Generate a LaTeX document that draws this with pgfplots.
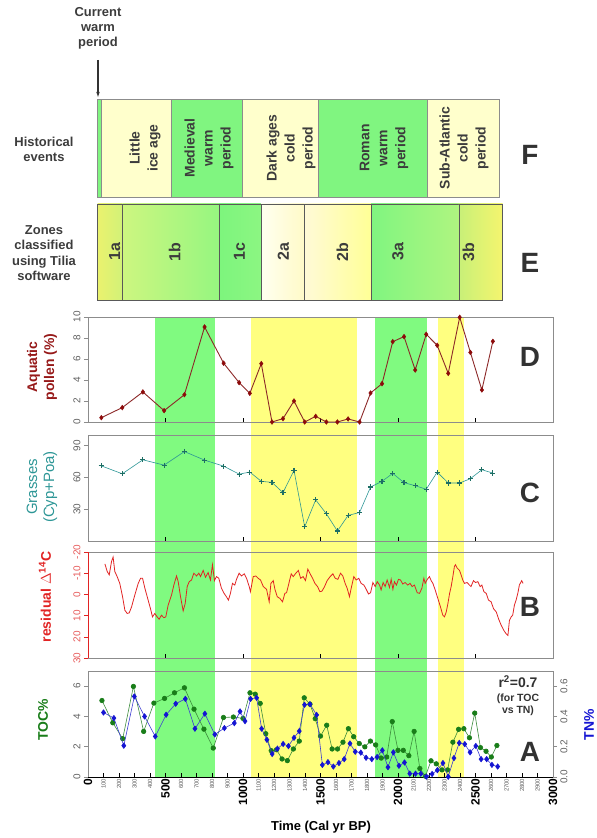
\documentclass[border=0pt]{standalone}
\usepackage{pgfplots}
\pgfplotsset{compat=1.18}
\usepackage{fontspec}
\setmainfont{Liberation Sans}
\usetikzlibrary{arrows.meta}

\definecolor{bgreen}{RGB}{128,250,128}
\definecolor{byellow}{RGB}{255,255,128}
\definecolor{pale}{RGB}{255,255,204}
\definecolor{fgreen}{RGB}{128,245,128}
\definecolor{framegray}{RGB}{140,140,140}
\definecolor{txtgray}{RGB}{60,60,60}
\definecolor{letgray}{RGB}{50,50,50}
\definecolor{labgray}{RGB}{95,95,95}
\definecolor{aqred}{RGB}{140,10,10}
\definecolor{aqline}{RGB}{140,40,40}
\definecolor{aqlab}{RGB}{150,25,25}
\definecolor{grteal}{RGB}{45,150,150}
\definecolor{grmark}{RGB}{30,110,100}
\definecolor{c14red}{RGB}{225,35,35}
\definecolor{c14lab}{RGB}{230,90,90}
\definecolor{tocgreen}{RGB}{25,125,25}
\definecolor{tocline}{RGB}{60,140,60}
\definecolor{tnblue}{RGB}{20,20,210}
\definecolor{tnline}{RGB}{60,60,210}

\newcommand{\fs}[2]{\fontsize{#1}{#2}\selectfont}
\newcommand{\MJ}[1]{{\fs{12}{12}\bfseries #1}}
\newcommand{\MN}[1]{{\fs{6}{6}\color{labgray}#1}}

\pgfplotsset{
  panel/.style={
    scale only axis, width=465bp, xmin=0, xmax=3000,
    anchor=south west,
    axis line style={framegray, line width=0.9pt},
    xtick={500,1000,1500,2000,2500}, xticklabels={},
    xtick pos=bottom, xtick align=inside,
    ytick pos=left, ytick align=outside,
    major tick length=4bp,
    xtick style={black, line width=0.9pt},
    ytick style={framegray, line width=0.6pt},
    yticklabel style={rotate=90, anchor=south, font=\fs{10}{10}, text=labgray},
    /pgf/number format/assume math mode=true,
    clip=false,
  },
  box/.style={
    scale only axis, anchor=south west, ymin=0, ymax=1,
    xtick=\empty, ytick=\empty,
    axis line style={framegray, line width=0.9pt}, clip=false,
  },
}

\begin{document}
\begin{tikzpicture}
\useasboundingbox (0,0) rectangle (597bp,838bp);

% ---------- background bands ----------
\begin{axis}[scale only axis, anchor=south west, at={(88bp,61bp)},
  width=465bp, height=460bp, xmin=0, xmax=3000, ymin=0, ymax=1, hide axis]
\addplot[fill=bgreen, draw=none] coordinates {(430,1)(820,1)} \closedcycle;
\addplot[fill=byellow, draw=none] coordinates {(1050,1)(1735,1)} \closedcycle;
\addplot[fill=bgreen, draw=none] coordinates {(1850,1)(2185,1)} \closedcycle;
\addplot[fill=byellow, draw=none] coordinates {(2255,1)(2425,1)} \closedcycle;
\end{axis}

% ---------- F : historical events ----------
\begin{axis}[box, at={(97.5bp,641bp)}, width=401.5bp, height=98bp, xmin=97.5, xmax=499]
\addplot[fill=fgreen, draw=framegray] coordinates {(97.5,1)(101,1)} \closedcycle;
\addplot[fill=pale, draw=framegray] coordinates {(101,1)(170.8,1)} \closedcycle;
\addplot[fill=fgreen, draw=framegray] coordinates {(170.8,1)(242.1,1)} \closedcycle;
\addplot[fill=pale, draw=framegray] coordinates {(242.1,1)(318.4,1)} \closedcycle;
\addplot[fill=fgreen, draw=framegray] coordinates {(318.4,1)(427.6,1)} \closedcycle;
\addplot[fill=pale, draw=framegray] coordinates {(427.6,1)(499,1)} \closedcycle;
\begin{scope}[every node/.style={rotate=90, align=center, font=\fs{14}{18}\bfseries, text=txtgray}]
\node at (axis cs:145,0.5) {Little\\ice age};
\node at (axis cs:209,0.5) {Medieval\\warm\\period};
\node at (axis cs:291,0.5) {Dark ages\\cold\\period};
\node at (axis cs:384,0.5) {Roman\\warm\\period};
\node at (axis cs:464,0.5) {Sub-Atlantic\\cold\\period};
\end{scope}
\end{axis}

% ---------- E : zones ----------
\begin{axis}[box, at={(97.5bp,538bp)}, width=405.2bp, height=96bp, xmin=97.5, xmax=502.7,
  axis line style={black!65, line width=0.8pt}]
\addplot[draw=black!65, line width=0.6pt, left color={rgb,255:red,235;green,242;blue,110}, right color={rgb,255:red,210;green,242;blue,120}] coordinates {(97.5,1)(122.3,1)} \closedcycle;
\addplot[draw=black!65, line width=0.6pt, left color={rgb,255:red,205;green,246;blue,128}, right color={rgb,255:red,150;green,246;blue,128}] coordinates {(122.3,1)(219.2,1)} \closedcycle;
\addplot[draw=black!65, line width=0.6pt, left color={rgb,255:red,125;green,245;blue,125}, right color={rgb,255:red,140;green,246;blue,130}] coordinates {(219.2,1)(261.2,1)} \closedcycle;
\addplot[draw=black!65, line width=0.6pt, left color={rgb,255:red,255;green,255;blue,240}, right color={rgb,255:red,255;green,250;blue,200}] coordinates {(261.2,1)(304.3,1)} \closedcycle;
\addplot[draw=black!65, line width=0.6pt, left color={rgb,255:red,255;green,250;blue,215}, right color={rgb,255:red,255;green,255;blue,150}] coordinates {(304.3,1)(371.1,1)} \closedcycle;
\addplot[draw=black!65, line width=0.6pt, left color={rgb,255:red,128;green,245;blue,128}, right color={rgb,255:red,175;green,245;blue,128}] coordinates {(371.1,1)(458.8,1)} \closedcycle;
\addplot[draw=black!65, line width=0.6pt, left color={rgb,255:red,200;green,240;blue,120}, right color={rgb,255:red,245;green,245;blue,110}] coordinates {(458.8,1)(502.7,1)} \closedcycle;
\begin{scope}[every node/.style={rotate=90, font=\fs{16}{16}\bfseries, text=txtgray}]
\node at (axis cs:114.7,0.5) {1a};
\node at (axis cs:174.6,0.5) {1b};
\node at (axis cs:239.5,0.5) {1c};
\node at (axis cs:283.3,0.5) {2a};
\node at (axis cs:342.5,0.5) {2b};
\node at (axis cs:397.8,0.5) {3a};
\node at (axis cs:468.4,0.5) {3b};
\end{scope}
\end{axis}

% ---------- D : aquatic pollen ----------
\begin{axis}[panel, at={(88bp,416bp)}, height=105bp, ymin=0, ymax=10, ytick={0,2,4,6,8,10}]
\addplot[aqline, line width=0.9pt, mark=diamond*, mark size=2.4pt, mark options={fill=aqred, draw=aqred, line width=0.4pt}] coordinates {
(86,0.41)(221,1.37)(354,2.86)(491,1.08)(622,2.6)(752,9.05)(875,5.6)(975,3.75)(1044,2.73)(1118,5.56)
(1187,0)(1258,0.32)(1329,2.0)(1398,0)(1469,0.54)(1538,0)(1609,0)(1678,0.29)(1752,0)(1823,2.76)
(1897,3.65)(1966,7.65)(2039,8.13)(2111,4.95)(2182,8.35)(2253,7.3)(2324,4.63)(2398,9.97)(2467,6.63)(2541,3.05)(2612,7.68)};
\end{axis}

% ---------- C : grasses ----------
\begin{axis}[panel, at={(88bp,297bp)}, height=106bp, ymin=0, ymax=100, ytick={30,60,90}]
\addplot[grteal, line width=0.6pt, mark=+, mark size=2.6pt, mark options={draw=grmark, line width=1.1pt}] coordinates {
(86,70.9)(221,63.4)(354,76.6)(491,71.6)(622,84.4)(752,76.3)(875,70.6)(975,63.1)(1044,65)(1118,56.3)
(1187,55.3)(1258,45.6)(1329,66.6)(1398,13.4)(1469,38.8)(1538,25.6)(1609,9.4)(1678,24.1)(1752,26.9)(1823,50.9)
(1897,56.3)(1966,63.8)(2039,55)(2111,52.2)(2182,48.8)(2253,65)(2324,54.7)(2398,54.7)(2467,58.8)(2541,67.2)(2612,64.1)};
\end{axis}

% ---------- B : residual D14C ----------
\begin{axis}[panel, at={(88bp,180bp)}, height=106bp, ymin=-20, ymax=30, y dir=reverse,
  ytick={-20,-10,0,10,20,30}, yticklabel style={text=c14lab}, ytick style={c14red}]
\draw[c14red, line width=0.9pt] (rel axis cs:0,0) -- (rel axis cs:0,1);
\addplot[c14red, line width=0.8pt] coordinates {
(109,-14.4)(124,-10.8)(137,-9.2)(152,-15.6)(162,-17.6)(173,-10.8)(188,-8.4)(205,-5.2)(223,1.1)(238,7.5)
(253,9.0)(266,8.7)(281,5.9)(302,0.3)(324,-5.2)(339,-7.6)(352,-7.6)(367,-2.9)(388,2.7)(403,6.7)
(416,10.6)(431,9.0)(446,10.6)(459,11.7)(474,9.8)(489,11)(502,10.6)(517,5.1)(539,0.3)(554,-4.4)
(571,-8.7)(582,-6.0)(597,1.1)(614,7.8)(627,4.3)(640,-3.7)(653,-6.0)(668,-6.8)(683,-10)(700,-8.7)
(715,-10)(726,-8.4)(743,-11.3)(758,-8.1)(775,-10.3)(790,-6.8)(803,-14)(816,-6.5)(829,-8.4)(844,-7.6)
(861,-2.9)(878,-0.5)(893,1.1)(906,2.7)(919,-0.5)(932,-5.2)(947,-4.4)(958,-7.1)(975,-10)(990,-8.7)
(1008,-9.7)(1023,-7.6)(1040,-3.7)(1048,-1.3)(1066,-8.4)(1083,-8.7)(1098,-7.6)(1113,-6.8)(1131,-3.7)(1152,-2.4)
(1169,3.5)(1180,-5.2)(1195,-6.5)(1206,-2.4)(1221,1.1)(1238,1.9)(1255,3.5)(1270,-0.5)(1281,-0.8)(1296,-5.2)
(1311,-9.7)(1324,-8.4)(1341,-10)(1357,-11.3)(1372,-7.6)(1388,-8.4)(1403,-6.5)(1418,-11.9)(1431,-10)(1449,-7.6)
(1464,-5.2)(1481,-3.7)(1496,-1.3)(1509,-1.5)(1525,-3.5)(1543,-6.5)(1562,-8.4)(1580,-9.7)(1595,-7.6)(1612,-7.1)
(1629,-10)(1644,-8.7)(1659,-5.2)(1672,-2.9)(1687,1.1)(1698,-2.9)(1715,-8.4)(1730,-6.8)(1747,-7.6)(1762,-5.2)
(1780,-4.4)(1795,-2.4)(1810,-0.2)(1823,-0.8)(1838,-5.6)(1853,-3.7)(1866,-6)(1881,-4.4)(1891,-2.1)(1904,-5.6)
(1917,-3.7)(1930,-6.8)(1945,-3.3)(1956,-7.1)(1967,-2.4)(1977,-6)(1990,-4.4)(2003,-7.1)(2016,-6.8)(2031,-4.9)
(2046,-5.6)(2063,-4.4)(2078,-5.2)(2091,-3.7)(2106,-4.4)(2124,-0.8)(2139,-0.5)(2154,-2.9)(2167,-7.6)(2175,-5.2)
(2189,-7.1)(2203,-8.4)(2214,-6.5)(2225,-5.2)(2240,-2.1)(2257,1.9)(2274,5.9)(2289,9.8)(2300,10.6)(2311,8.3)
(2322,4.3)(2333,-0.5)(2343,-3.7)(2354,-8.4)(2364,-13.2)(2371,-14)(2382,-12.4)(2397,-11.3)(2407,-9.2)(2418,-6.8)
(2429,-5.2)(2446,-5.6)(2461,-4.4)(2471,-3.7)(2487,-6.5)(2500,-5.6)(2515,-6)(2530,-3.7)(2541,-4.4)(2554,-1.3)
(2569,-0.5)(2584,2.7)(2601,3.5)(2616,6.7)(2634,8.3)(2648,11.4)(2666,14.6)(2683,17)(2698,18.6)(2709,19.4)
(2719,12.2)(2730,10.6)(2740,9.8)(2751,5.1)(2762,2.7)(2773,-0.5)(2783,-4.4)(2798,-6.5)(2807,-5.2)};
\end{axis}

% ---------- A : TOC and TN ----------
\begin{axis}[panel, at={(88bp,61bp)}, height=106bp, ymin=0, ymax=7, ytick={0,2,4,6},
  xtick={0,100,...,3000},
  xticklabels={\MJ{0},\MN{100},\MN{200},\MN{300},\MN{400},\MJ{500},\MN{600},\MN{700},\MN{800},\MN{900},
   \MJ{1000},\MN{1100},\MN{1200},\MN{1300},\MN{1400},\MJ{1500},\MN{1600},\MN{1700},\MN{1800},\MN{1900},
   \MJ{2000},\MN{2100},\MN{2200},\MN{2300},\MN{2400},\MJ{2500},\MN{2600},\MN{2700},\MN{2800},\MN{2900},\MJ{3000}},
  xticklabel style={rotate=90, anchor=east, inner sep=1.5bp},
  xtick style={black, line width=0.7pt}]
\draw[black, line width=1pt] (rel axis cs:0,0) -- (rel axis cs:1,0);
\addplot[tocline, line width=0.6pt, mark=*, mark size=2.3pt, mark options={fill=tocgreen, draw=tocgreen}] coordinates {
(90,5.05)(160,3.58)(224,2.53)(293,5.98)(359,3.01)(425,4.88)(494,5.19)(558,5.56)(622,5.89)(684,4.48)
(748,3.16)(808,1.91)(874,3.93)(938,3.96)(1000,3.87)(1045,5.56)(1079,5.47)(1111,4.86)(1147,2.86)(1182,1.74)
(1216,1.80)(1252,1.19)(1286,1.08)(1325,1.85)(1363,2.37)(1395,5.23)(1432,4.81)(1466,3.85)(1500,2.70)(1540,3.42)
(1575,1.85)(1610,1.85)(1645,2.30)(1680,3.19)(1714,2.66)(1750,2.21)(1786,1.99)(1822,2.37)(1856,2.12)(1892,1.25)
(1927,1.32)(1963,3.66)(2000,1.76)(2034,1.76)(2070,1.41)(2104,3.01)(2141,0.56)(2177,0.05)(2213,1.07)(2247,0.87)
(2284,0.47)(2320,0.47)(2354,2.30)(2391,3.15)(2425,3.19)(2461,2.59)(2495,4.22)(2532,1.94)(2568,1.70)(2602,1.32)(2638,2.08)};
\end{axis}
\begin{axis}[scale only axis, anchor=south west, at={(88bp,61bp)}, width=465bp, height=106bp,
  xmin=0, xmax=3000, ymin=0, ymax=0.7, axis x line=none, axis y line*=right,
  axis line style={framegray, line width=0.9pt},
  ytick={0,0.2,0.4,0.6}, yticklabels={0.0,0.2,0.4,0.6},
  ytick align=outside, major tick length=4bp, ytick style={framegray, line width=0.6pt},
  yticklabel style={rotate=90, anchor=north, font=\fs{10}{10}, text=labgray}, clip=false]
\addplot[tnline, line width=0.6pt, mark=diamond*, mark size=2.7pt, mark options={fill=tnblue, draw=tnblue}] coordinates {
(100,0.426)(167,0.389)(231,0.207)(299,0.532)(365,0.40)(434,0.268)(504,0.411)(566,0.484)(628,0.516)(690,0.319)
(754,0.418)(818,0.281)(880,0.323)(944,0.356)(981,0.433)(1013,0.369)(1049,0.516)(1088,0.523)(1120,0.319)(1154,0.246)
(1188,0.152)(1222,0.187)(1259,0.218)(1293,0.204)(1329,0.259)(1363,0.303)(1397,0.477)(1432,0.481)(1475,0.41)(1512,0.08)
(1548,0.098)(1583,0.069)(1619,0.092)(1653,0.118)(1690,0.221)(1724,0.167)(1760,0.161)(1794,0.127)(1831,0.118)(1865,0.132)
(1899,0.176)(1935,0.065)(1970,0.163)(2006,0.074)(2042,0.096)(2076,0.022)(2113,0.022)(2147,0.022)(2183,0.002)(2220,0.02)
(2254,0.045)(2290,0.092)(2324,0.002)(2361,0.125)(2395,0.225)(2431,0.217)(2465,0.163)(2502,0.205)(2536,0.118)(2572,0.118)(2606,0.08)(2643,0.069)};
\end{axis}

% ---------- texts ----------
\node[align=center, font=\fs{13}{15}\bfseries, text=txtgray] at (98bp,810bp) {Current\\warm\\period};
\draw[-{Latex[length=6bp,width=3.5bp]}, line width=1.1pt, black!80] (98bp,778bp) -- (98bp,740bp);
\node[align=center, font=\fs{13}{15}\bfseries, text=txtgray] at (44bp,689bp) {Historical\\events};
\node[align=center, font=\fs{13}{15.5}\bfseries, text=txtgray] at (44bp,585bp) {Zones\\classified\\using Tilia\\software};

\begin{scope}[every node/.style={font=\fs{28}{28}\bfseries, text=letgray}]
\node at (530bp,683bp) {F};
\node at (530bp,575bp) {E};
\node at (530bp,481bp) {D};
\node at (530bp,345bp) {C};
\node at (530bp,231bp) {B};
\node at (530bp,86bp) {A};
\end{scope}

\node[rotate=90, align=center, font=\fs{14}{17}\bfseries, text=aqlab] at (42bp,471bp) {Aquatic\\pollen (\%)};
\node[rotate=90, align=center, font=\fs{15}{17}, text=grteal] at (42bp,351bp) {Grasses\\(Cyp+Poa)};
\node[rotate=90, font=\fs{14}{14}\bfseries, text=c14red] at (45bp,241bp) {residual $\Delta$\textsuperscript{14}C};
\node[rotate=90, font=\fs{14}{14}\bfseries, text=tocgreen] at (43bp,118bp) {TOC\%};
\node[rotate=90, font=\fs{14}{14}\bfseries, text=tnblue] at (589bp,113bp) {TN\%};
\node[font=\fs{13}{13}\bfseries] at (321bp,11bp) {Time (Cal yr BP)};
\node[font=\fs{14}{14}\bfseries, text=letgray, inner sep=0pt] at (518bp,156bp) {r\textsuperscript{2}=0.7};
\node[align=center, font=\fs{10.5}{11.5}\bfseries, text=letgray, inner sep=0pt] at (518bp,133bp) {(for TOC\\vs TN)};
\end{tikzpicture}
\end{document}
